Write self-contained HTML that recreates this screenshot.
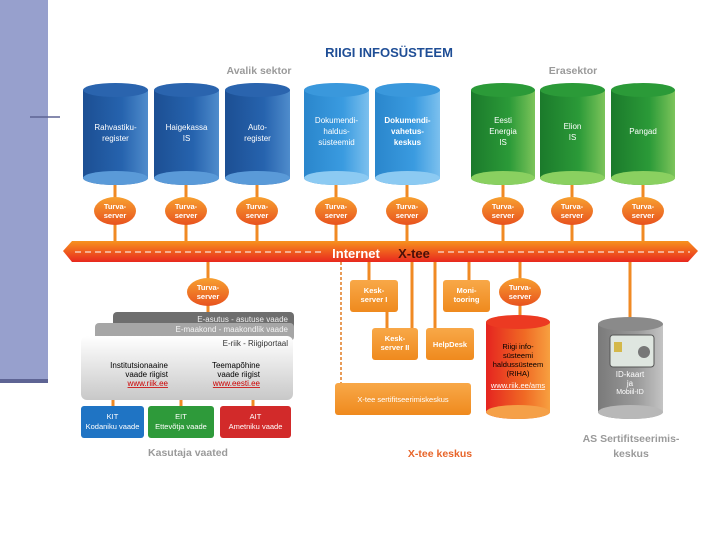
<!DOCTYPE html>
<html><head><meta charset="utf-8"><style>
body{margin:0;width:720px;height:540px;background:#fff;overflow:hidden}
svg{display:block}
text{font-family:"Liberation Sans",sans-serif}
</style></head><body>
<svg width="720" height="540" viewBox="0 0 720 540" xmlns="http://www.w3.org/2000/svg">
<defs>
<linearGradient id="bl" x1="0" x2="1"><stop offset="0" stop-color="#1c4f93"/><stop offset=".6" stop-color="#2663ae"/><stop offset="1" stop-color="#4f8ccc"/></linearGradient>
<linearGradient id="lb" x1="0" x2="1"><stop offset="0" stop-color="#2a86cc"/><stop offset=".6" stop-color="#3a9be0"/><stop offset="1" stop-color="#7cc0ee"/></linearGradient>
<linearGradient id="gr" x1="0" x2="1"><stop offset="0" stop-color="#1b7a2b"/><stop offset=".6" stop-color="#2b9a38"/><stop offset="1" stop-color="#7cc45a"/></linearGradient>
<linearGradient id="rd" x1="0" x2="1"><stop offset="0" stop-color="#e52420"/><stop offset=".6" stop-color="#f06a24"/><stop offset="1" stop-color="#f7a040"/></linearGradient>
<linearGradient id="gy" x1="0" x2="1"><stop offset="0" stop-color="#7a7a7a"/><stop offset=".6" stop-color="#9a9a9a"/><stop offset="1" stop-color="#c4c4c4"/></linearGradient>
<linearGradient id="bar" x1="0" y1="0" x2="0" y2="1"><stop offset="0" stop-color="#f7931e"/><stop offset="1" stop-color="#e8281e"/></linearGradient>
<linearGradient id="ts" x1="0" y1="0" x2="0" y2="1"><stop offset="0" stop-color="#f7a030"/><stop offset="1" stop-color="#e8521e"/></linearGradient>
<linearGradient id="ob" x1="0" y1="0" x2="0" y2="1"><stop offset="0" stop-color="#f8a848"/><stop offset="1" stop-color="#ef8a1e"/></linearGradient>
<linearGradient id="wb" x1="0" y1="0" x2="0" y2="1"><stop offset="0" stop-color="#ffffff"/><stop offset="1" stop-color="#c8c8c8"/></linearGradient>
</defs>
<rect x="0" y="0" width="48" height="380" fill="#97a0cd"/>
<rect x="0" y="379" width="48" height="4" fill="#5e6494"/>
<line x1="30" y1="117" x2="60" y2="117" stroke="#5e6494" stroke-width="1.5"/>

<text x="389" y="57" font-size="13" font-weight="bold" fill="#1f4e96" text-anchor="middle">RIIGI INFOSÜSTEEM</text>
<text x="259" y="74" font-size="10.5" font-weight="bold" fill="#9a9a9a" text-anchor="middle">Avalik sektor</text>
<text x="573" y="74" font-size="10.5" font-weight="bold" fill="#9a9a9a" text-anchor="middle">Erasektor</text>

<g stroke="#f08a24" stroke-width="3">
<line x1="115" y1="180" x2="115" y2="242"/><line x1="186" y1="180" x2="186" y2="242"/><line x1="257" y1="180" x2="257" y2="242"/>
<line x1="336" y1="180" x2="336" y2="242"/><line x1="407" y1="180" x2="407" y2="242"/>
<line x1="503" y1="180" x2="503" y2="242"/><line x1="572" y1="180" x2="572" y2="242"/><line x1="643" y1="180" x2="643" y2="242"/>
<line x1="208" y1="260" x2="208" y2="312"/>
<line x1="369" y1="260" x2="369" y2="282"/><line x1="387" y1="310" x2="387" y2="330"/>
<line x1="412" y1="260" x2="412" y2="330"/><line x1="435" y1="260" x2="435" y2="330"/>
<line x1="469" y1="260" x2="469" y2="282"/><line x1="520" y1="260" x2="520" y2="318"/>
<line x1="630" y1="260" x2="630" y2="320"/>
<line x1="113" y1="398" x2="113" y2="408"/><line x1="181" y1="398" x2="181" y2="408"/><line x1="253" y1="398" x2="253" y2="408"/>
</g>
<line x1="341" y1="262" x2="341" y2="385" stroke="#e07a20" stroke-width="1.5" stroke-dasharray="3,2"/>

<g font-size="8" fill="#fff" text-anchor="middle">
<g><path d="M83 90 v88 a32.5 7 0 0 0 65 0 v-88 z" fill="url(#bl)"/><ellipse cx="115.5" cy="178" rx="32.5" ry="7" fill="#5a9ad8"/><ellipse cx="115.5" cy="90" rx="32.5" ry="7" fill="#2a64ae"/><text x="115.5" y="130">Rahvastiku-</text><text x="115.5" y="141">register</text></g>
<g><path d="M154 90 v88 a32.5 7 0 0 0 65 0 v-88 z" fill="url(#bl)"/><ellipse cx="186.5" cy="178" rx="32.5" ry="7" fill="#5a9ad8"/><ellipse cx="186.5" cy="90" rx="32.5" ry="7" fill="#2a64ae"/><text x="186.5" y="130">Haigekassa</text><text x="186.5" y="141">IS</text></g>
<g><path d="M225 90 v88 a32.5 7 0 0 0 65 0 v-88 z" fill="url(#bl)"/><ellipse cx="257.5" cy="178" rx="32.5" ry="7" fill="#5a9ad8"/><ellipse cx="257.5" cy="90" rx="32.5" ry="7" fill="#2a64ae"/><text x="257.5" y="130">Auto-</text><text x="257.5" y="141">register</text></g>
<g><path d="M304 90 v88 a32.5 7 0 0 0 65 0 v-88 z" fill="url(#lb)"/><ellipse cx="336.5" cy="178" rx="32.5" ry="7" fill="#8ccaf2"/><ellipse cx="336.5" cy="90" rx="32.5" ry="7" fill="#3a98dc"/><text x="336.5" y="123">Dokumendi-</text><text x="336.5" y="134">haldus-</text><text x="336.5" y="145">süsteemid</text></g>
<g font-weight="bold"><path d="M375 90 v88 a32.5 7 0 0 0 65 0 v-88 z" fill="url(#lb)"/><ellipse cx="407.5" cy="178" rx="32.5" ry="7" fill="#8ccaf2"/><ellipse cx="407.5" cy="90" rx="32.5" ry="7" fill="#3a98dc"/><text x="407.5" y="123">Dokumendi-</text><text x="407.5" y="134">vahetus-</text><text x="407.5" y="145">keskus</text></g>
<g><path d="M471 90 v88 a32 7 0 0 0 64 0 v-88 z" fill="url(#gr)"/><ellipse cx="503" cy="178" rx="32" ry="7" fill="#8ad060"/><ellipse cx="503" cy="90" rx="32" ry="7" fill="#2b9a38"/><text x="503" y="123">Eesti</text><text x="503" y="134">Energia</text><text x="503" y="145">IS</text></g>
<g><path d="M540 90 v88 a32.5 7 0 0 0 65 0 v-88 z" fill="url(#gr)"/><ellipse cx="572.5" cy="178" rx="32.5" ry="7" fill="#8ad060"/><ellipse cx="572.5" cy="90" rx="32.5" ry="7" fill="#2b9a38"/><text x="572.5" y="129">Elion</text><text x="572.5" y="140">IS</text></g>
<g><path d="M611 90 v88 a32 7 0 0 0 64 0 v-88 z" fill="url(#gr)"/><ellipse cx="643" cy="178" rx="32" ry="7" fill="#8ad060"/><ellipse cx="643" cy="90" rx="32" ry="7" fill="#2b9a38"/><text x="643" y="134">Pangad</text></g>
</g>

<g font-size="7.5" font-weight="bold" fill="#fff" text-anchor="middle">
<g><ellipse cx="115" cy="211" rx="21" ry="14" fill="url(#ts)"/><text x="115" y="209">Turva-</text><text x="115" y="218">server</text></g>
<g><ellipse cx="186" cy="211" rx="21" ry="14" fill="url(#ts)"/><text x="186" y="209">Turva-</text><text x="186" y="218">server</text></g>
<g><ellipse cx="257" cy="211" rx="21" ry="14" fill="url(#ts)"/><text x="257" y="209">Turva-</text><text x="257" y="218">server</text></g>
<g><ellipse cx="336" cy="211" rx="21" ry="14" fill="url(#ts)"/><text x="336" y="209">Turva-</text><text x="336" y="218">server</text></g>
<g><ellipse cx="407" cy="211" rx="21" ry="14" fill="url(#ts)"/><text x="407" y="209">Turva-</text><text x="407" y="218">server</text></g>
<g><ellipse cx="503" cy="211" rx="21" ry="14" fill="url(#ts)"/><text x="503" y="209">Turva-</text><text x="503" y="218">server</text></g>
<g><ellipse cx="572" cy="211" rx="21" ry="14" fill="url(#ts)"/><text x="572" y="209">Turva-</text><text x="572" y="218">server</text></g>
<g><ellipse cx="643" cy="211" rx="21" ry="14" fill="url(#ts)"/><text x="643" y="209">Turva-</text><text x="643" y="218">server</text></g>
<g><ellipse cx="208" cy="292" rx="21" ry="14" fill="url(#ts)"/><text x="208" y="290">Turva-</text><text x="208" y="299">server</text></g>
<g><ellipse cx="520" cy="292" rx="21" ry="14" fill="url(#ts)"/><text x="520" y="290">Turva-</text><text x="520" y="299">server</text></g>
</g>

<path d="M72 241 H688 L698 251 L688 262 H72 L63 251 Z" fill="url(#bar)"/>
<line x1="75" y1="252" x2="325" y2="252" stroke="#fff" stroke-width="1" stroke-dasharray="6,4"/>
<line x1="438" y1="252" x2="690" y2="252" stroke="#fff" stroke-width="1" stroke-dasharray="6,4"/>
<text x="356" y="258" font-size="13" font-weight="bold" fill="#fff" text-anchor="middle">Internet</text>
<text x="414" y="258" font-size="13" font-weight="bold" fill="#4a1008" text-anchor="middle">X-tee</text>

<rect x="113" y="312" width="181" height="18" rx="4" fill="#6e6e6e"/>
<text x="288" y="322" font-size="8" fill="#eee" text-anchor="end">E-asutus - asutuse vaade</text>
<rect x="95" y="323" width="199" height="18" rx="4" fill="#a6a6a6"/>
<text x="288" y="332" font-size="8" fill="#f4f4f4" text-anchor="end">E-maakond - maakondlik vaade</text>
<rect x="81" y="336" width="212" height="64" rx="6" fill="url(#wb)"/>
<text x="288" y="346" font-size="8" fill="#333" text-anchor="end">E-riik - Riigiportaal</text>
<g font-size="8" fill="#000" text-anchor="end">
<text x="168" y="368">Institutsionaaine</text><text x="168" y="377">vaade riigist</text>
<text x="260" y="368">Teemapõhine</text><text x="260" y="377">vaade riigist</text>
</g>
<text x="168" y="386" font-size="8" fill="#c00" text-anchor="end" text-decoration="underline">www.riik.ee</text>
<text x="260" y="386" font-size="8" fill="#c00" text-anchor="end" text-decoration="underline">www.eesti.ee</text>

<g font-size="7.5" fill="#fff" text-anchor="middle">
<rect x="81" y="406" width="63" height="32" rx="3" fill="#1f74c4"/><text x="112.5" y="419">KIT</text><text x="112.5" y="429">Kodaniku vaade</text>
<rect x="148" y="406" width="66" height="32" rx="3" fill="#2e9a3a"/><text x="181" y="419">EIT</text><text x="181" y="429">Ettevõtja vaade</text>
<rect x="220" y="406" width="71" height="32" rx="3" fill="#d22a2a"/><text x="255.5" y="419">AIT</text><text x="255.5" y="429">Ametniku vaade</text>
</g>
<text x="188" y="456" font-size="10.5" font-weight="bold" fill="#9a9a9a" text-anchor="middle">Kasutaja vaated</text>

<g font-size="7.5" font-weight="bold" fill="#fff" text-anchor="middle">
<rect x="350" y="280" width="48" height="32" rx="3" fill="url(#ob)"/><text x="374" y="293">Kesk-</text><text x="374" y="302">server I</text>
<rect x="372" y="328" width="46" height="32" rx="3" fill="url(#ob)"/><text x="395" y="341">Kesk-</text><text x="395" y="350">server II</text>
<rect x="443" y="280" width="47" height="32" rx="3" fill="url(#ob)"/><text x="466.5" y="293">Moni-</text><text x="466.5" y="302">tooring</text>
<rect x="426" y="328" width="48" height="32" rx="3" fill="url(#ob)"/><text x="450" y="347">HelpDesk</text>
<rect x="335" y="383" width="136" height="32" rx="3" fill="url(#ob)"/><text x="403" y="402" font-weight="normal">X-tee sertifitseerimiskeskus</text>
</g>
<text x="440" y="457" font-size="10.5" font-weight="bold" fill="#e8652a" text-anchor="middle">X-tee keskus</text>

<path d="M486 322 v90 a32 7 0 0 0 64 0 v-90 z" fill="url(#rd)"/>
<ellipse cx="518" cy="412" rx="32" ry="7" fill="#f5a048"/>
<ellipse cx="518" cy="322" rx="32" ry="7" fill="#ec3a22"/>
<g font-size="7.5" fill="#000" text-anchor="middle">
<text x="518" y="349">Riigi info-</text><text x="518" y="358">süsteemi</text><text x="518" y="367">haldussüsteem</text><text x="518" y="376">(RIHA)</text>
</g>
<text x="518" y="388" font-size="7.5" fill="#fff" text-anchor="middle" text-decoration="underline">www.riik.ee/ams</text>

<path d="M598 324 v88 a32.5 7 0 0 0 65 0 v-88 z" fill="url(#gy)"/>
<ellipse cx="630.5" cy="412" rx="32.5" ry="7" fill="#b8b8b8"/>
<ellipse cx="630.5" cy="324" rx="32.5" ry="7" fill="#8a8a8a"/>
<rect x="610" y="335" width="44" height="32" rx="3" fill="#dfe6e0" stroke="#555" stroke-width="1"/>
<rect x="614" y="342" width="8" height="10" fill="#d4b84a"/>
<circle cx="644" cy="352" r="6" fill="#777"/>
<g font-size="8" fill="#fff" text-anchor="middle"><text x="630" y="377">ID-kaart</text><text x="630" y="386">ja</text><text x="630" y="394" font-size="7">Mobiil-ID</text></g>
<g font-size="10.5" font-weight="bold" fill="#9a9a9a" text-anchor="middle"><text x="631" y="442">AS Sertifitseerimis-</text><text x="631" y="457">keskus</text></g>
</svg>
</body></html>
